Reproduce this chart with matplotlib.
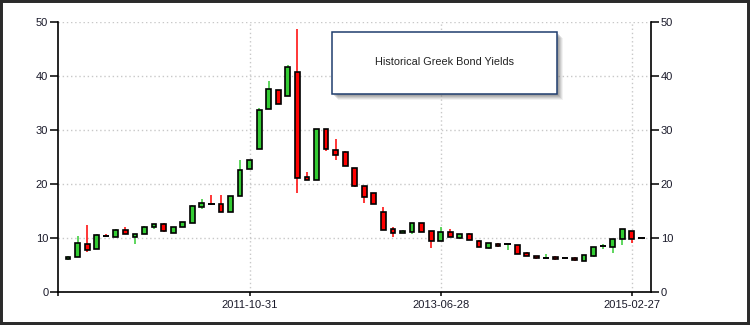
import matplotlib
matplotlib.use("Agg")
import matplotlib.pyplot as plt
import matplotlib.patches as mpatches
import numpy as np
import pandas as pd

plt.rcParams['font.family'] = ['Liberation Sans', 'DejaVu Sans']

# monthly candles, month-end business days
dates = pd.date_range('2010-03-31', periods=61, freq='BME')

opens = [6.1, 6.5, 8.8, 8.0, 10.42, 10.2, 11.4, 10.2, 10.7, 11.9,
         12.5, 10.9, 12.0, 12.8, 15.7, 16.22, 16.2, 14.8, 17.8, 22.7,
         26.4, 33.8, 37.3, 36.2, 40.6, 21.2, 20.6, 30.1, 26.2, 25.8,
         23.0, 19.5, 18.2, 14.7, 11.55, 10.8, 11.1, 12.7, 11.2, 9.45,
         11.0, 10.0, 10.6, 9.3, 8.15, 8.8, 8.75, 8.65, 7.15, 6.55,
         6.25, 6.35, 6.22, 6.25, 5.75, 6.7, 8.45, 8.2, 9.7, 11.25,
         9.9]
highs = [6.6, 10.3, 12.3, 10.6, 10.7, 11.6, 11.9, 10.6, 12.2, 12.5,
         12.7, 11.9, 13.0, 16.0, 17.2, 17.9, 17.9, 17.7, 24.4, 24.4,
         34.1, 39.0, 37.3, 41.9, 48.6, 22.1, 30.1, 30.1, 28.3, 26.05,
         23.0, 19.5, 18.2, 15.6, 11.9, 11.4, 12.7, 12.7, 11.2, 11.9,
         11.7, 10.6, 10.8, 9.5, 8.95, 9.0, 8.8, 8.65, 7.35, 6.55,
         7.0, 6.6, 6.3, 6.5, 6.8, 8.3, 8.75, 9.7, 11.55, 11.25,
         9.9]
lows = [5.9, 6.5, 7.4, 8.0, 10.1, 10.2, 10.6, 8.9, 10.7, 11.6,
        11.1, 10.8, 12.0, 12.8, 15.3, 16.1, 14.8, 14.8, 17.8, 22.7,
        26.4, 33.8, 34.7, 36.2, 18.2, 20.6, 20.6, 26.1, 24.4, 23.3,
        19.4, 16.5, 16.3, 11.5, 10.2, 10.8, 10.7, 11.1, 8.15, 9.45,
        10.2, 9.8, 9.5, 8.2, 7.9, 8.3, 7.8, 7.05, 6.65, 6.0,
        6.0, 5.8, 6.1, 5.7, 5.75, 6.5, 7.9, 7.1, 8.65, 8.95,
        9.9]
closes = [6.5, 9.1, 7.8, 10.5, 10.38, 11.4, 10.6, 10.6, 12.0, 12.5,
          11.3, 11.9, 12.85, 15.8, 16.4, 16.18, 14.8, 17.7, 22.5, 24.3,
          33.6, 37.5, 34.7, 41.7, 21.0, 20.6, 30.1, 26.4, 25.4, 23.3,
          19.6, 17.6, 16.3, 11.5, 10.8, 11.2, 12.7, 11.1, 9.45, 11.05,
          10.2, 10.6, 9.5, 8.2, 8.95, 8.5, 8.8, 7.05, 6.65, 6.2,
          6.3, 6.05, 6.18, 5.85, 6.8, 8.3, 8.5, 9.7, 11.55, 9.7,
          9.9]

title = "Historical Greek Bond Yields"
label_every = 20

up_col = '#33cc33'
down_col = '#ff0000'

o = np.array(opens)
h = np.array(highs)
l = np.array(lows)
c = np.array(closes)
x = np.arange(len(o))

fig = plt.figure(figsize=(7.5, 3.25), dpi=100)
fig.patch.set_facecolor('white')
ax = fig.add_axes([58 / 750, 33.3 / 325, (651 - 58) / 750, 270 / 325])

cols = [up_col if cc > oo else (down_col if cc < oo else 'black') for oo, cc in zip(o, c)]

# wicks
ax.vlines(x, l, h, colors=cols, linewidth=1.1, zorder=2)

doji = np.abs(c - o) < 0.1
body = ~doji
ax.bar(x[body], np.abs(c - o)[body], bottom=np.minimum(o, c)[body], width=0.5,
       color=[cols[i] for i in x[body]], edgecolor='black', linewidth=1.2, zorder=3)
ax.hlines(((o + c) / 2)[doji], x[doji] - 0.33, x[doji] + 0.33, colors='black',
          linewidth=1.4, zorder=3)

ax.set_xlim(-1.05, 61.0)
ax.set_ylim(0, 50)

ticks = list(range(label_every - 1, len(x), label_every))
ax.set_xticks(ticks)
ax.set_xticklabels([dates[i].strftime('%Y-%m-%d') for i in ticks])
ax.set_xticks([-1.05], minor=True)
ax.set_yticks(range(0, 51, 10))

ax.grid(True, color='#c8c8c8', linestyle=(0, (1, 2)), linewidth=1)
ax.set_axisbelow(True)

for s in ['left', 'bottom', 'right']:
    ax.spines[s].set_linewidth(1.2)
    ax.spines[s].set_color('black')
ax.spines['top'].set_visible(False)

ax.tick_params(axis='y', which='both', direction='out', length=6, width=1.1,
               left=True, right=True, labelleft=True, labelright=True,
               labelsize=8, pad=1, labelcolor='#1a1a2a')
ax.tick_params(axis='x', which='both', direction='out', length=3, width=1.1,
               labelsize=8, pad=3, labelcolor='#1a1a2a')

# title box with soft drop shadow
bx, by, bw, bh = 331.7 / 750, 231 / 325, (557.3 - 331.7) / 750, 62.3 / 325
for k, a in zip([6, 5, 4, 3, 2], [0.08, 0.12, 0.15, 0.18, 0.2]):
    fig.patches.append(mpatches.Rectangle((bx + k / 750, by - k / 325), bw, bh,
                                          transform=fig.transFigure, facecolor='#606060',
                                          edgecolor='none', alpha=a, zorder=5))
fig.patches.append(mpatches.Rectangle((bx, by), bw, bh, transform=fig.transFigure,
                                      facecolor='white', edgecolor='#1f3d6e',
                                      linewidth=1.1, zorder=6))
fig.text(bx + bw / 2, by + bh / 2 + 1 / 325, title, ha='center', va='center',
         fontsize=7.8, color='#222222', zorder=7)

# dark frame round the picture
fig.patches.append(mpatches.Rectangle((0, 0), 1, 1, transform=fig.transFigure,
                                      fill=False, edgecolor='#2b2b2b', linewidth=4.3,
                                      zorder=10))

fig.savefig('out.png', dpi=100)
